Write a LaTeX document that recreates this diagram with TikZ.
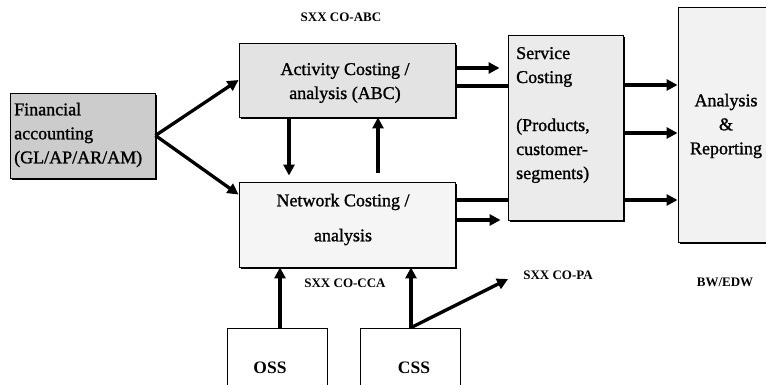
\documentclass[tikz,border=0pt]{standalone}
\usepackage{fontspec}
\setmainfont{Liberation Serif}
\newfontfamily\heavyserif{Liberation Serif}[FakeBold=1.2]
\usetikzlibrary{arrows.meta,shadows,calc}
\begin{document}
\begin{tikzpicture}[x=1pt,y=-1pt,
  box/.style={draw=black, line width=0.9pt, inner sep=0pt,
    drop shadow={shadow xshift=2.2pt, shadow yshift=-2.2pt, opacity=1, fill=black}},
  plainbox/.style={draw=black, line width=0.8pt, inner sep=0pt, fill=white},
  boxtext/.style={font=\heavyserif\fontsize{18}{24}\selectfont, inner sep=0pt},
  tag/.style={font=\bfseries\fontsize{13}{15}\selectfont, inner sep=0pt},
  bigtag/.style={font=\bfseries\fontsize{17.5}{20}\selectfont, inner sep=0pt},
  arr/.style={line width=3.3pt, -{Triangle[length=11pt,width=11pt]}},
  link/.style={line width=3.3pt}]
\useasboundingbox (0,0) rectangle (766,385);
\clip (0,0) rectangle (766,385);

% boxes
\node[box, fill=black!20, minimum width=145pt, minimum height=85pt] (fa) at (82.5,135.5) {};
\node[box, fill=black!11, minimum width=216pt, minimum height=74pt] (abc) at (347,80) {};
\node[box, fill=black!4, minimum width=216pt, minimum height=85pt] (nca) at (347,224.5) {};
\node[box, fill=black!8, minimum width=115pt, minimum height=185pt] (svc) at (565.5,127.5) {};
\node[box, fill=black!5, minimum width=102pt, minimum height=235pt] (ar) at (729,124.5) {};
\node[plainbox, minimum width=100pt, minimum height=72pt] (oss) at (277,364) {};
\node[plainbox, minimum width=100pt, minimum height=72pt] (css) at (410,364) {};

% box texts
\node[boxtext, align=left, anchor=west] (fat) at (14,135) {Financial\\accounting\\(GL/AP/AR/AM)};
\node[boxtext, align=center] (abct) at (345,83) {Activity Costing /\\analysis (ABC)};
\node[boxtext, align=center] (ncat) at (343,219.5) {Network Costing /\\[11pt]analysis};
\node[boxtext, align=left, anchor=west] (svct) at (516,115) {Service\\Costing\\[24pt](Products,\\customer-\\segments)};
\node[boxtext, align=center] (art) at (726,126) {Analysis\\\&\\Reporting};
\node[bigtag] (osst) at (270,368) {OSS};
\node[bigtag] (csst) at (414,368) {CSS};

% labels
\node[tag] (abcl) at (341,17) {SXX CO-ABC};
\node[tag] (ccal) at (345,283) {SXX CO-CCA};
\node[tag] (pal) at (558,275) {SXX CO-PA};
\node[tag] (bwl) at (725,282) {BW/EDW};

% helper coordinates
\coordinate (nw) at ([yshift=-13pt]nca.north west);
\coordinate (d1) at ([xshift=-58pt]abc.south);
\coordinate (u1) at ([xshift=31pt]nca.north);
\coordinate (a1) at ([yshift=12pt]abc.east);
\coordinate (a2) at ([yshift=-6pt]abc.east);
\coordinate (n1) at ([yshift=24.5pt]nca.east);
\coordinate (n2) at ([yshift=4.5pt]nca.east);
\coordinate (s1) at ([yshift=42.5pt]svc.east);
\coordinate (s2) at ([yshift=-5.5pt]svc.east);
\coordinate (s3) at ([yshift=-72.5pt]svc.east);
\coordinate (o1) at ([xshift=3pt]oss.north);
\coordinate (c1) at ([xshift=1pt]css.north);
\coordinate (patip) at ([xshift=-15pt,yshift=-4pt]pal.west);

% connectors
\draw[arr] (fa.east) -- (abc.west);
\draw[arr] (fa.east) -- (nw);
\draw[arr, shorten >=6pt] (d1) -- (d1 |- nca.north);
\draw[arr, shorten <=9pt] (u1) -- (u1 |- abc.south);
\draw[arr, shorten >=8pt] (a1) -- (a1 -| svc.west);
\draw[link] (a2) -- (a2 -| svc.west);
\draw[link] (n1) -- (n1 -| svc.west);
\draw[arr, shorten >=7pt] (n2) -- (n2 -| svc.west);
\draw[arr] (s1) -- (s1 -| ar.west);
\draw[arr] (s2) -- (s2 -| ar.west);
\draw[arr] (s3) -- (s3 -| ar.west);
\draw[arr] (o1) -- (o1 |- nca.south);
\draw[arr] (c1) -- (c1 |- nca.south);
\draw[arr] (c1) -- (patip);
\end{tikzpicture}
\end{document}
